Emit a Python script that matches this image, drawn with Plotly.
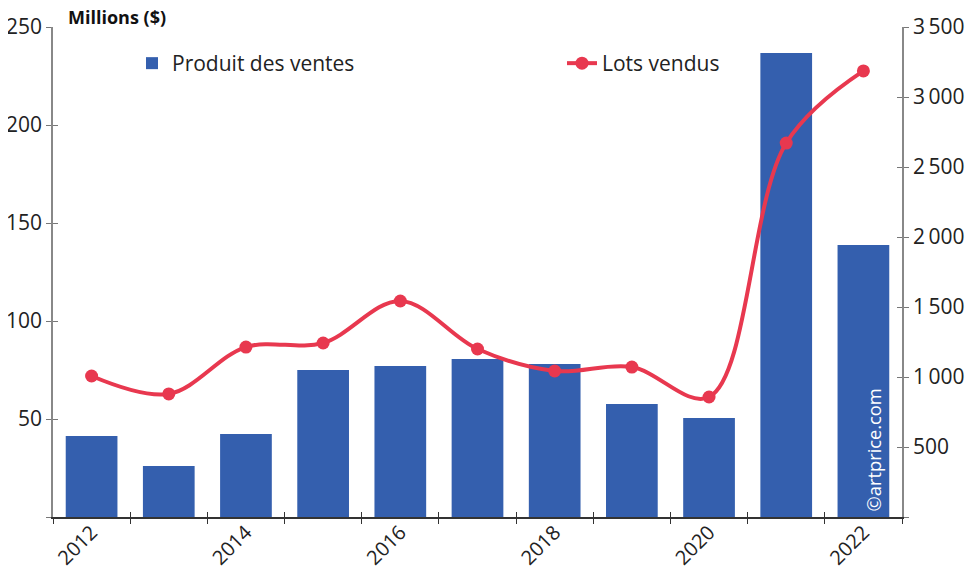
import plotly.graph_objects as go

years = [2012, 2013, 2014, 2015, 2016, 2017, 2018, 2019, 2020, 2021, 2022]
produit_ventes = [41.3, 26, 42.3, 75, 77, 80.6, 78, 57.7, 50.5, 236.7, 138.8]
lots_vendus = [1007, 879, 1214, 1243, 1543, 1200, 1043, 1071, 857, 2671, 3186]

x_tickvals = [2012, 2014, 2016, 2018, 2020, 2022]
x_ticktext = ["2012", "2014", "2016", "2018", "2020", "2022"]
boundaries = [y - 0.5 for y in years] + [years[-1] + 0.5]
left_tickvals = [0, 50, 100, 150, 200, 250]
left_ticktext = ["", "50", "100", "150", "200", "250"]
right_tickvals = [0, 500, 1000, 1500, 2000, 2500, 3000, 3500]
right_ticktext = ["", "500", "1\u2009000", "1\u2009500", "2\u2009000", "2\u2009500",
                  "3\u2009000", "3\u2009500"]

BAR = "#345fae"
LINE = "#e8384f"
FONT = "Open Sans"
TXT = "#222222"
FS = 21

fig = go.Figure()
fig.add_trace(go.Bar(x=years, y=produit_ventes, name="Produit des ventes",
                     marker=dict(color=BAR, line=dict(width=0)), width=0.67,
                     xaxis="x", yaxis="y", legend="legend"))
fig.add_trace(go.Scatter(x=years, y=lots_vendus, name="Lots vendus", mode="lines+markers",
                         line=dict(color=LINE, width=4, shape="spline", smoothing=1),
                         marker=dict(color=LINE, size=13),
                         xaxis="x", yaxis="y2", legend="legend2"))

xr = [years[0] - 0.5, years[-1] + 0.5]
leg_common = dict(orientation="h", xanchor="left", y=1 - 16 / 490, yanchor="top",
                  font=dict(size=FS, color=TXT), bgcolor="rgba(0,0,0,0)")
# page body has an 8px offset, so the figure is 8px smaller and margins shifted
fig.update_layout(
    width=965, height=560,
    margin=dict(l=45, r=71, t=19, b=51, autoexpand=False),
    plot_bgcolor="white", paper_bgcolor="white",
    font=dict(family=FONT, size=FS, color=TXT),
    showlegend=True,
    legend=dict(x=(132 - 53) / 849, **leg_common),
    legend2=dict(x=(562 - 53) / 849, **leg_common),
    xaxis=dict(range=xr, tickmode="array", tickvals=x_tickvals, ticktext=x_ticktext,
               tickangle=-45, ticks="", showgrid=False, zeroline=False,
               showline=True, linecolor="#333333", linewidth=1.5, automargin=False,
               tickfont=dict(size=20, color=TXT), ticklabelstandoff=-6,
               minor=dict(tickmode="array", tickvals=boundaries, ticks="outside",
                          ticklen=5, tickcolor="#333333", tickwidth=1.3, showgrid=False),
               anchor="y"),
    xaxis3=dict(range=xr, overlaying="x", anchor="y", tickmode="array", tickvals=boundaries,
                ticks="inside", ticklen=5, tickcolor="#333333", tickwidth=1.3,
                showticklabels=False, showgrid=False, zeroline=False, showline=False,
                automargin=False),
    yaxis=dict(range=[0, 250], tickmode="array", tickvals=left_tickvals, ticktext=left_ticktext,
               ticks="outside", ticklen=5, tickcolor="#777777", tickwidth=1.3,
               showline=True, linecolor="#888888", linewidth=1.5, showgrid=False,
               zeroline=False, tickfont=dict(size=FS, color=TXT), anchor="x", automargin=False),
    yaxis3=dict(range=[0, 250], overlaying="y", anchor="x", side="left", tickmode="array",
                tickvals=left_tickvals, ticks="inside", ticklen=5, tickcolor="#777777",
                tickwidth=1.3, showticklabels=False, showgrid=False, zeroline=False,
                showline=False, automargin=False),
    yaxis2=dict(range=[0, 3500], overlaying="y", side="right", anchor="x", tickmode="array",
                tickvals=right_tickvals, ticktext=right_ticktext,
                ticks="outside", ticklen=5, tickcolor="#777777", tickwidth=1.3,
                showline=True, linecolor="#888888", linewidth=1.5, showgrid=False,
                zeroline=False, tickfont=dict(size=FS, color=TXT), automargin=False),
    yaxis4=dict(range=[0, 3500], overlaying="y", side="right", anchor="x", tickmode="array",
                tickvals=right_tickvals, ticks="inside", ticklen=5, tickcolor="#777777",
                tickwidth=1.3, showticklabels=False, showgrid=False, zeroline=False,
                showline=False, automargin=False),
)

# invisible traces to activate overlay axes
fig.add_trace(go.Scatter(x=[years[0]], y=[0], xaxis="x3", yaxis="y3", showlegend=False,
                         hoverinfo="skip", mode="markers", marker=dict(opacity=0)))
fig.add_trace(go.Scatter(x=[years[0]], y=[0], xaxis="x", yaxis="y4", showlegend=False,
                         hoverinfo="skip", mode="markers", marker=dict(opacity=0)))

fig.add_annotation(text="<b>Millions ($)</b>", xref="paper", yref="paper",
                   x=(66 - 53) / 849, y=1 + 10 / 490, xanchor="left", yanchor="middle",
                   showarrow=False, font=dict(family=FONT, size=18, color="#111111"))
fig.add_annotation(text="©artprice.com", xref="x", yref="y", x=years[-1], y=34.2,
                   xshift=11, textangle=-90, showarrow=False,
                   font=dict(family=FONT, size=18.3, color="white"))

fig.write_html("out.html")
